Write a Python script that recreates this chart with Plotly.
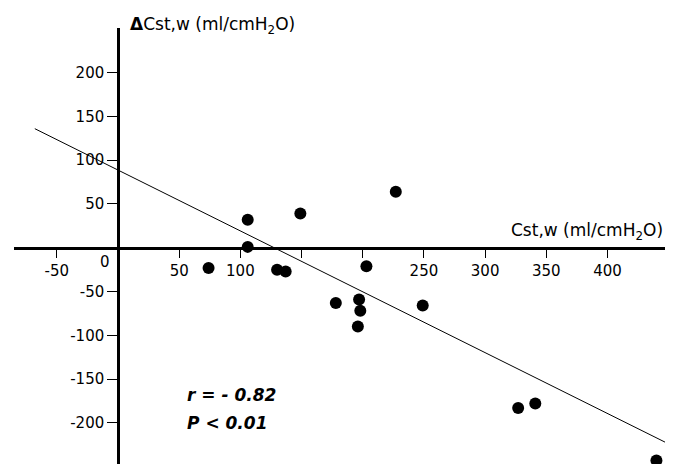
import plotly.graph_objects as go

# Data
cst_w = [74, 106, 106, 130, 137, 149, 178, 196, 197, 198, 203, 227, 249, 327, 341, 440]
delta_cst_w = [-23, 1, 32, -25, -27, 39, -63, -90, -59, -72, -21, 64, -66, -183, -178, -243]

fit_x = [-68, 447]
fit_y = [136, -222]

x_tickvals = [-50, 50, 100, 250, 300, 350, 400]
x_ticktext = ["-50", "50", "100", "250", "300", "350", "400"]
y_tickvals = [-200, -150, -100, -50, 50, 100, 150, 200]
y_ticktext = ["-200", "-150", "-100", "-50", "50", "100", "150", "200"]

x_range = [-85, 447]
y_range = [-247, 251]

FONT = "DejaVu Sans, Arial, sans-serif"

fig = go.Figure()
fig.add_trace(go.Scatter(x=fit_x, y=fit_y, mode="lines",
                         line=dict(color="black", width=1), hoverinfo="skip"))
fig.add_trace(go.Scatter(x=cst_w, y=delta_cst_w, mode="markers",
                         marker=dict(color="black", size=12)))

x_pos = (0 - y_range[0]) / (y_range[1] - y_range[0])
y_pos = (0 - x_range[0]) / (x_range[1] - x_range[0])

fig.update_layout(
    width=665, height=456,
    margin=dict(l=6, r=8, t=20, b=0),
    paper_bgcolor="white", plot_bgcolor="white",
    showlegend=False,
    font=dict(family=FONT, size=15, color="black"),
    xaxis=dict(range=x_range, anchor="free", position=x_pos,
               showline=True, linecolor="black", linewidth=2.5,
               ticks="outside", ticklen=8, tickwidth=1.2, tickcolor="black",
               tickvals=x_tickvals, ticktext=x_ticktext,
               minor=dict(ticks="outside", ticklen=8, tickwidth=1.2, tickcolor="black",
                          tick0=0, dtick=50, showgrid=False),
               showgrid=False, zeroline=False,
               tickfont=dict(family=FONT, size=15, color="black")),
    yaxis=dict(range=y_range, anchor="free", position=y_pos,
               showline=True, linecolor="black", linewidth=2.5,
               ticks="outside", ticklen=10, tickwidth=1.2, tickcolor="black",
               tickvals=y_tickvals, ticktext=y_ticktext,
               showgrid=False, zeroline=False,
               tickfont=dict(family=FONT, size=15, color="black")),
)

fig.add_annotation(x=-11, y=-16, xref="x", yref="y", text="0", showarrow=False,
                   font=dict(family=FONT, size=15, color="black"))
fig.add_annotation(x=1, y=18, xref="paper", yref="y", xanchor="right", yanchor="middle",
                   text="Cst,w (ml/cmH<sub>2</sub>O)", showarrow=False,
                   font=dict(family=FONT, size=17, color="black"))
fig.add_annotation(x=8, y=1, xref="x", yref="paper", xanchor="left", yanchor="middle",
                   yshift=3, text="<b>Δ</b>Cst,w (ml/cmH<sub>2</sub>O)", showarrow=False,
                   font=dict(family=FONT, size=17, color="black"))
fig.add_annotation(x=55, y=-168, xref="x", yref="y", xanchor="left", yanchor="middle",
                   text="<b><i>r = - 0.82</i></b>", showarrow=False,
                   font=dict(family=FONT, size=17, color="black"))
fig.add_annotation(x=55, y=-200, xref="x", yref="y", xanchor="left", yanchor="middle",
                   text="<b><i>P < 0.01</i></b>", showarrow=False,
                   font=dict(family=FONT, size=17, color="black"))

fig.write_html("out.html")
